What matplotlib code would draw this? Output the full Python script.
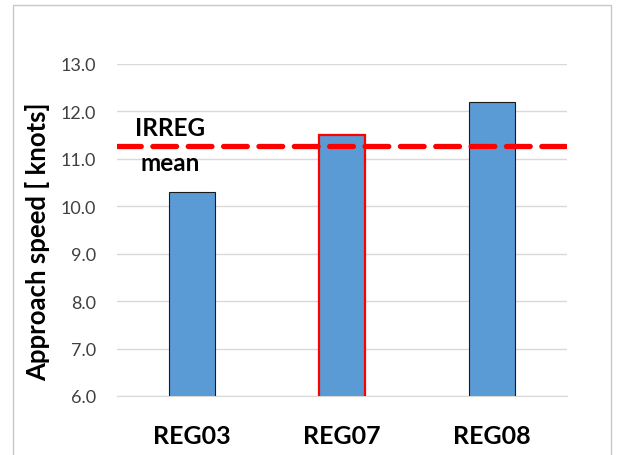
import matplotlib.pyplot as plt
from matplotlib.patches import Rectangle

categories = ["REG03", "REG07", "REG08"]
speeds = [10.3, 11.5, 12.2]
edge_colors = ["#1a1a1a", "#ff0000", "#1a1a1a"]
edge_widths = [0.8, 1.6, 0.8]
irreg_mean = 11.27
yticks = [6.0, 7.0, 8.0, 9.0, 10.0, 11.0, 12.0, 13.0]

plt.rcParams["font.family"] = ["Lato", "DejaVu Sans"]

fig = plt.figure(figsize=(6.22, 4.56), dpi=100)
ax = fig.add_axes([0.188, 0.1294, 0.7236, 0.7281])

# outer chart border
fig.patches.append(Rectangle((13 / 622, -0.05), 598 / 622, 1 - 6 / 456 + 0.05,
                             transform=fig.transFigure, fill=False,
                             edgecolor="#c8c8c8", linewidth=1.0))

x = range(len(categories))
ax.bar(x, speeds, width=0.31, color="#5b9bd5", edgecolor=edge_colors,
       linewidth=edge_widths, zorder=3)

ax.axhline(irreg_mean, color="#ff0000", linewidth=3.8, linestyle=(0, (4.5, 2.2)),
           dash_capstyle="round", zorder=4)
ax.text(-0.147, 11.67, "IRREG", ha="center", va="center", fontsize=17.5,
        fontweight="bold", zorder=5)
ax.text(-0.147, 10.93, "mean", ha="center", va="center", fontsize=17.5,
        fontweight="bold", zorder=5)

ax.set_xlim(-0.5, 2.5)
ax.set_ylim(6, 13)
ax.set_yticks(yticks)
ax.set_yticklabels([f"{t:.1f}" for t in yticks], fontsize=13, color="#404040")
ax.set_xticks(list(x))
ax.set_xticklabels(categories, fontsize=18, fontweight="bold")
ax.tick_params(axis="both", length=0)
ax.tick_params(axis="x", pad=20)
ax.tick_params(axis="y", pad=15)
ax.grid(axis="y", color="#d9d9d9", linewidth=1.0, zorder=0)
for side in ["top", "right", "left"]:
    ax.spines[side].set_visible(False)
ax.spines["bottom"].set_color("#d9d9d9")

ax.set_ylabel("Approach speed [ knots]", fontsize=18.5, fontweight="bold")
ax.yaxis.set_label_coords(-0.176, 0.467)
ax.yaxis.label.set_va("center")

fig.savefig("out.png", dpi=100)
